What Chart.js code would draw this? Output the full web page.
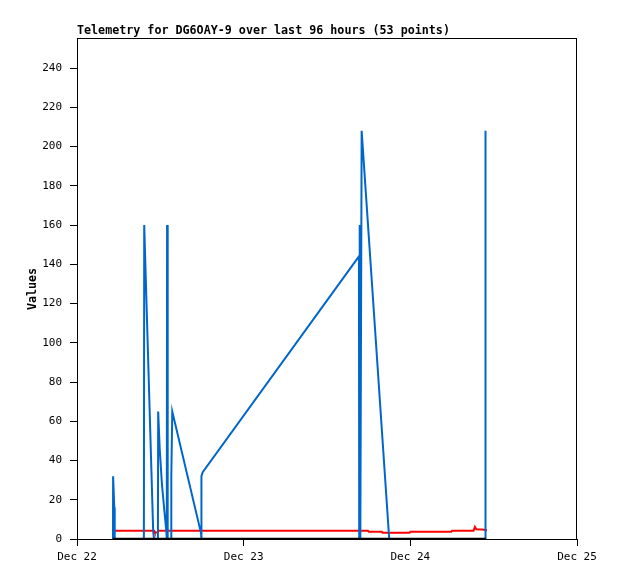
<!DOCTYPE html>
<html>
<head>
<meta charset="utf-8">
<script src="https://cdn.jsdelivr.net/npm/chart.js@4.4.0/dist/chart.umd.min.js"></script>
<style>
  body { margin: 0; background: #fff; }
  canvas { display: block; }
</style>
</head>
<body>
<canvas id="myChart" width="618" height="579"></canvas>
<script>
// hours since Dec 22 00:00
var dayLabels = ['Dec 22', 'Dec 23', 'Dec 24', 'Dec 25'];
var yTicks = [0, 20, 40, 60, 80, 100, 120, 140, 160, 180, 200, 220, 240];

var blueHours = [5.18, 5.20, 5.37, 5.43, 9.63, 9.68, 10.97, 11.09, 11.65, 11.69, 11.91, 12.23,
  12.59, 12.86, 12.93, 12.97, 13.06, 13.55, 13.58, 13.72, 17.86, 17.90, 17.94, 18.10,
  40.60, 40.64, 40.71, 40.80, 40.99, 44.96, 58.77, 58.81, 58.84];
var blueValues = [0, 32, 16, 0, 0, 160, 4, 0, 0, 65, 46, 28,
  14, 4, 0, 160, 0, 0, 32, 65, 3, 0, 32, 34,
  144, 0, 160, 0, 208, 0, 0, 208, 208];

var redHours = [5.43, 11.10, 11.20, 11.60, 11.70, 41.90, 42.00, 43.90, 44.00, 47.90, 48.00,
  53.90, 54.00, 57.10, 57.30, 57.50, 58.40, 59.05];
var redValues = [4.2, 4.2, 3.3, 3.3, 4.2, 4.2, 3.7, 3.7, 3.2, 3.2, 3.7,
  3.7, 4.2, 4.2, 6.2, 5.0, 4.8, 4.3];

var zeroHours = [5.18, 58.91];
var zeroValues = [0, 0];

function toPoints(xs, ys) {
  var pts = [];
  for (let i = 0; i < xs.length; i++) {
    pts.push({ x: xs[i], y: ys[i] });
  }
  return pts;
}

var frame = {
  id: 'frame',
  afterDraw: function(chart) {
    var ctx = chart.ctx;
    var a = chart.chartArea;
    ctx.save();
    ctx.strokeStyle = '#000';
    ctx.lineWidth = 1;
    ctx.strokeRect(a.left + 0.5, a.top + 0.5, a.right - a.left - 1, a.bottom - a.top);
    ctx.fillStyle = '#000';
    ctx.font = 'bold 11.7px "DejaVu Sans Mono"';
    ctx.textBaseline = 'alphabetic';
    ctx.fillText('Telemetry for DG6OAY-9 over last 96 hours (53 points)', a.left, 34);
    ctx.translate(33, 289);
    ctx.rotate(-Math.PI / 2);
    ctx.textAlign = 'center';
    ctx.textBaseline = 'middle';
    ctx.fillText('Values', 0, 0);
    ctx.restore();
  }
};

var tickFont = { family: '"DejaVu Sans Mono"', size: 11 };

let ctx = document.getElementById('myChart');
let myChart = new Chart(ctx, {
  type: 'line',
  data: {
    datasets: [
      { data: toPoints(zeroHours, zeroValues), borderColor: '#000000', borderWidth: 2.5 },
      { data: toPoints(blueHours, blueValues), borderColor: '#0066cc', borderWidth: 2 },
      { data: toPoints(redHours, redValues), borderColor: '#ff0000', borderWidth: 2 }
    ]
  },
  options: {
    responsive: false,
    devicePixelRatio: 1,
    animation: false,
    layout: { padding: { left: 0, right: 41, top: 38, bottom: 0 } },
    elements: { point: { radius: 0 }, line: { tension: 0, borderCapStyle: 'butt' } },
    plugins: { legend: { display: false }, tooltip: { enabled: false } },
    scales: {
      x: {
        type: 'linear',
        min: 0,
        max: 72,
        afterBuildTicks: function(s) {
          s.ticks = [0, 24, 48, 72].map(function(v) { return { value: v }; });
        },
        afterFit: function(s) { s.height = 40; },
        ticks: {
          color: '#000',
          font: tickFont,
          padding: 5,
          maxRotation: 0,
          callback: function(v) { return dayLabels[v / 24]; }
        },
        grid: { drawOnChartArea: false, drawTicks: true, tickLength: 7, color: '#000', lineWidth: 1 },
        border: { display: true, color: '#000', width: 1 }
      },
      y: {
        min: 0,
        max: 255.3,
        afterBuildTicks: function(s) {
          s.ticks = yTicks.map(function(v) { return { value: v }; });
        },
        afterFit: function(s) { s.width = 77; },
        ticks: { color: '#000', font: tickFont, padding: 8 },
        grid: { drawOnChartArea: false, drawTicks: true, tickLength: 7, color: '#000', lineWidth: 1 },
        border: { display: true, color: '#000', width: 1 }
      }
    }
  },
  plugins: [frame]
});
</script>
</body>
</html>
